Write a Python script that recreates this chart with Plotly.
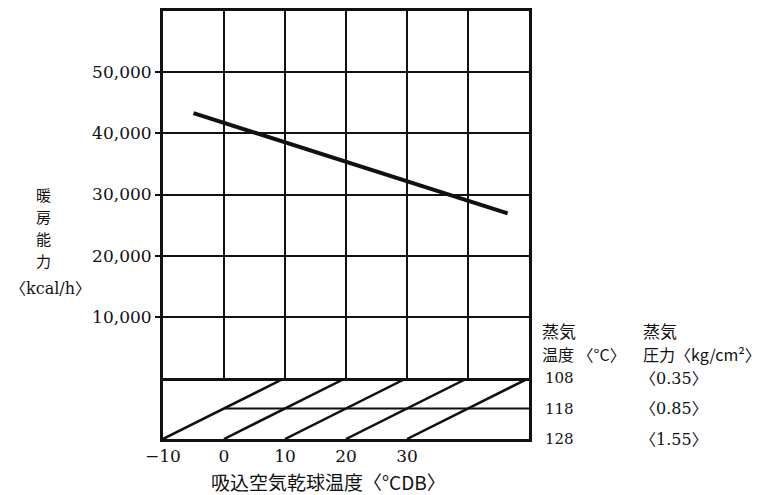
import plotly.graph_objects as go

# ---- data ----
capacity_x = [-5, 46.5]                 # 吸込空気乾球温度 (°CDB)
capacity_y = [43300, 26900]             # 暖房能力 (kcal/h)
y_ticks = [10000, 20000, 30000, 40000, 50000]
x_ticks = [-10, 0, 10, 20, 30]
x_ticktext = ["−10", "0", "10", "20", "30"]
steam_temp = [108, 118, 128]            # 蒸気温度 (°C)
steam_pressure = ["〈0.35〉", "〈0.85〉", "〈1.55〉"]  # 蒸気圧力 (kg/cm²)
diag_x_at_128 = [-10, 0, 10, 20, 30]
diag_x_at_108 = [10, 20, 30, 40, 50]
y_title_chars = ["暖", "房", "能", "力"]

# page body has an 8px margin, so the figure is sized/positioned to compensate
OFF = 8
W, H = 763 - OFF, 495 - OFF
L, R, T, B = 163, 529, 11, 439          # plot area in page pixels
def px_x(p): return (p - L) / (R - L)
def px_y(p): return (B - p) / (B - T)

NUM = "DejaVu Serif, Noto Sans CJK JP"
JP = "Noto Sans CJK JP, DejaVu Serif"
BLK = "#111111"

fig = go.Figure()
fig.add_trace(go.Scatter(x=capacity_x, y=capacity_y, mode="lines",
                         line=dict(color=BLK, width=4), xaxis="x", yaxis="y"))
for a, b in zip(diag_x_at_128, diag_x_at_108):
    fig.add_trace(go.Scatter(x=[a, b], y=[steam_temp[2], steam_temp[0]], mode="lines",
                             line=dict(color=BLK, width=2.5), xaxis="x2", yaxis="y2"))
# 118 line starts where the first diagonal crosses it
fig.add_trace(go.Scatter(x=[(diag_x_at_128[0] + diag_x_at_108[0]) / 2, diag_x_at_108[-1]],
                         y=[steam_temp[1], steam_temp[1]], mode="lines",
                         line=dict(color=BLK, width=2), xaxis="x2", yaxis="y2"))

split = px_y(378)
fig.update_layout(
    template="none",
    width=W, height=H, showlegend=False, hovermode=False,
    paper_bgcolor="white", plot_bgcolor="white",
    margin=dict(l=L - OFF, r=(763 - R), t=T - OFF, b=(495 - B), pad=0, autoexpand=False),
    xaxis=dict(domain=[0, 1], range=[-10, 50], anchor="y", dtick=10, tick0=-10,
               showticklabels=False, ticks="", showgrid=True, gridcolor=BLK, gridwidth=2,
               showline=True, mirror=True, linecolor=BLK, linewidth=3, zeroline=False,
               automargin=False),
    yaxis=dict(domain=[split, 1], range=[0, 60000], anchor="x",
               tickvals=y_ticks, tickformat=",d",
               showgrid=True, gridcolor=BLK, gridwidth=2, zeroline=False,
               showline=True, mirror=True, linecolor=BLK, linewidth=3,
               ticks="outside", ticklen=5, tickwidth=2, tickcolor=BLK, automargin=False,
               tickfont=dict(family=NUM, size=17, color=BLK)),
    xaxis2=dict(domain=[0, 1], range=[-10, 50], anchor="y2", ticks="",
                tickvals=x_ticks, ticktext=x_ticktext, showgrid=False, zeroline=False,
                showline=True, mirror=False, linecolor=BLK, linewidth=3, automargin=False,
                tickfont=dict(family=NUM, size=17, color=BLK)),
    yaxis2=dict(domain=[0, split], range=[128, 108], anchor="x2", side="right",
                tickvals=steam_temp, showgrid=False, zeroline=False, ticks="",
                showline=True, mirror=True, linecolor=BLK, linewidth=3,
                ticklabelstandoff=10, automargin=False,
                tickfont=dict(family=NUM, size=15, color=BLK)),
)

ann = []
for i, ch in enumerate(y_title_chars):
    ann.append(dict(text=ch, x=px_x(43), y=px_y(194 + 22 * i), xanchor="center", yanchor="middle",
                    borderpad=0, font=dict(family=JP, size=15, color=BLK)))
ann += [
    dict(text="〈kcal/h〉", x=px_x(50), y=px_y(288), xanchor="center", yanchor="middle",
         font=dict(family=NUM, size=16, color=BLK)),
    dict(text="蒸気", x=px_x(540), y=px_y(330), xanchor="left", yanchor="middle",
         font=dict(family=JP, size=17, color=BLK)),
    dict(text="温度 〈°C〉", x=px_x(540), y=px_y(354), xanchor="left", yanchor="middle",
         font=dict(family=JP, size=16, color=BLK)),
    dict(text="蒸気", x=px_x(641), y=px_y(330), xanchor="left", yanchor="middle",
         font=dict(family=JP, size=17, color=BLK)),
    dict(text="圧力〈kg/cm²〉", x=px_x(641), y=px_y(354), xanchor="left", yanchor="middle",
         font=dict(family=JP, size=16, color=BLK)),
    dict(text="吸込空気乾球温度〈°CDB〉", x=px_x(328), y=px_y(481), xanchor="center", yanchor="middle",
         borderpad=0, font=dict(family=JP, size=19, color=BLK)),
]
for t, p in zip(steam_temp, steam_pressure):
    ann.append(dict(text=p, x=px_x(638), y=t, yref="y2", xanchor="left", yanchor="middle",
                    font=dict(family=NUM, size=16, color=BLK)))
for a in ann:
    a.setdefault("xref", "paper")
    a.setdefault("yref", "paper")
    a["showarrow"] = False
fig.update_layout(annotations=ann)

fig.write_html("out.html")
